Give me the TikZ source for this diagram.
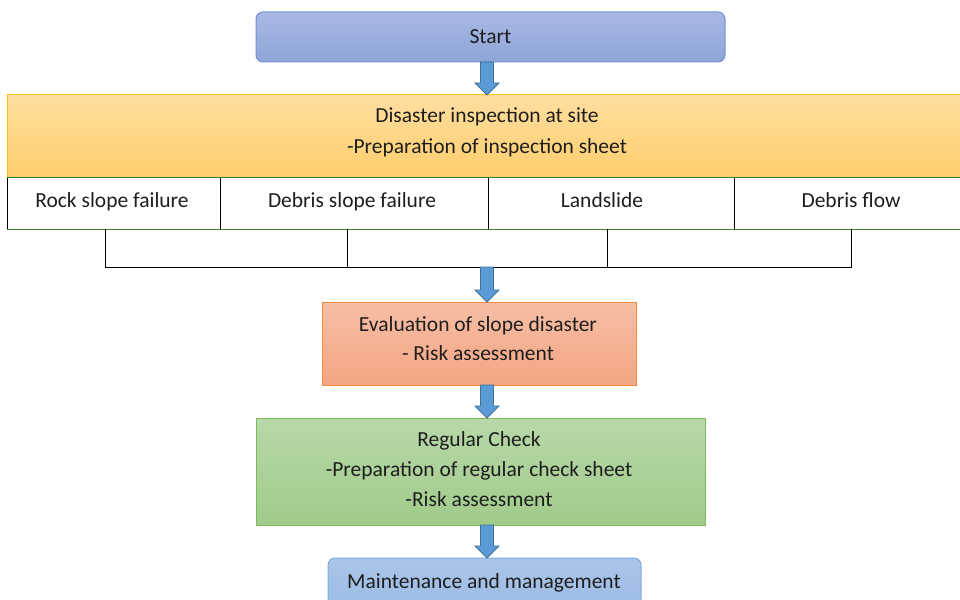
\documentclass[tikz,border=0pt]{standalone}
\usepackage{fontspec}
\setmainfont{Carlito}
\usetikzlibrary{calc}
\definecolor{txt}{HTML}{1E1E1E}
\definecolor{arrfill}{HTML}{5B9BD5}
\definecolor{arrdraw}{HTML}{41719C}
\definecolor{stT}{HTML}{A9B8E2}\definecolor{stB}{HTML}{8EA5D9}\definecolor{stD}{HTML}{7391D2}
\definecolor{inT}{HTML}{FFDEA0}\definecolor{inB}{HTML}{FFCE6C}\definecolor{inD}{HTML}{FFC20E}
\definecolor{evT}{HTML}{F7BEA5}\definecolor{evB}{HTML}{F4A582}\definecolor{evD}{HTML}{F28A3C}
\definecolor{chT}{HTML}{B8D8A9}\definecolor{chB}{HTML}{A0CB8A}\definecolor{chD}{HTML}{7CBB58}
\definecolor{maT}{HTML}{AAC5E9}\definecolor{maB}{HTML}{9DBCE5}\definecolor{maD}{HTML}{80A8DD}
\definecolor{cellG}{HTML}{3F7F2C}
\tikzset{
  box/.style={draw, line width=1pt, inner sep=0pt, outer sep=0pt, align=center, text=txt,
    font=\fontsize{21.5}{30}\selectfont},
  startbox/.style={box, rounded corners=7pt, top color=stT, bottom color=stB, draw=stD},
  inspbox/.style={box, top color=inT, bottom color=inB, draw=inD},
  cellbox/.style={box, fill=white, draw=black},
  evalbox/.style={box, top color=evT, bottom color=evB, draw=evD},
  checkbox/.style={box, top color=chT, bottom color=chB, draw=chD},
  maintbox/.style={box, rounded corners=7pt, top color=maT, bottom color=maB, draw=maD},
  bracket/.style={draw=black, line width=1pt},
  celltext/.style={text=txt, font=\fontsize{21.5}{30}\selectfont, inner sep=0pt, anchor=base},
  barrow/.style={fill=arrfill, draw=arrdraw, line width=0.8pt, line join=miter},
}
\newcommand{\blockarr}[2]{%
  \path (xa |- #1.south) coordinate (ba1) (xa |- #2.north) coordinate (ba2);
  \filldraw[barrow]
    ($(ba1)+(-6.5,0)$) -- ($(ba1)+(6.5,0)$) -- ($(ba2)+(6.5,-12)$) -- ($(ba2)+(12,-12)$)
    -- (ba2) -- ($(ba2)+(-12,-12)$) -- ($(ba2)+(-6.5,-12)$) -- cycle;}
\begin{document}
\begin{tikzpicture}[x=1pt, y=-1pt]
\useasboundingbox (0,0) rectangle (960,599);
\clip (0,0) rectangle (960,599);
\fill[white] (0,0) rectangle (960,599);
\coordinate (xa) at (487,0);

\node[startbox, minimum width=469pt, minimum height=50pt] (start) at (490.5,37) {Start};
\node[inspbox, minimum width=960pt, minimum height=82pt] (insp) at (487,136) {};
\node[celltext] (tinsp1) at (487,123) {Disaster inspection at site};
\node[celltext] (tinsp2) at (487,153) {-Preparation of inspection sheet};

\node[cellbox, minimum width=213pt, minimum height=52pt] (rock) at (113.5,203) {};
\node[cellbox, minimum width=268pt, minimum height=52pt] (debris) at (354,203) {};
\node[cellbox, minimum width=246pt, minimum height=52pt] (land) at (611,203) {};
\node[cellbox, minimum width=233pt, minimum height=52pt] (flow) at (850.5,203) {};
\draw[draw=cellG, line width=1pt] (rock.south west) -- (flow.south east);
\draw[draw=cellG, line width=1pt] (rock.north west) -- (flow.north east);
\node[celltext] (trock) at (112,207) {Rock slope failure};
\node[celltext] (tdebris) at (352,207) {Debris slope failure};
\node[celltext] (tland) at (602,207) {Landslide};
\node[celltext] (tflow) at (851,207) {Debris flow};

\coordinate (b1) at (105,267);
\coordinate (b2) at (347,267);
\coordinate (b3) at (607,267);
\coordinate (b4) at (851,267);
\draw[bracket] (rock.south -| b1) -- (b1) -- (b4) -- (flow.south -| b4);
\draw[bracket] (debris.south -| b2) -- (b2);
\draw[bracket] (land.south -| b3) -- (b3);

\node[evalbox, minimum width=314pt, minimum height=83pt] (eval) at (479,343.5) {};
\node[celltext] (teval1) at (478,331) {Evaluation of slope disaster};
\node[celltext] (teval2) at (478,360) {- Risk assessment};
\node[checkbox, minimum width=449pt, minimum height=107pt] (check) at (480.5,471.5) {};
\node[celltext] (tcheck1) at (479,446) {Regular Check};
\node[celltext] (tcheck2) at (479,476) {-Preparation of regular check sheet};
\node[celltext] (tcheck3) at (479,506) {-Risk assessment};
\node[maintbox, minimum width=313pt, minimum height=48pt] (maint) at (484.5,582) {};
\node[celltext] (tmaint) at (484,588) {Maintenance and management};

\blockarr{start}{insp}
\coordinate (bk) at (487,267);
\path (bk) coordinate (ba1) (xa |- eval.north) coordinate (ba2);
\filldraw[barrow]
    ($(ba1)+(-6.5,0)$) -- ($(ba1)+(6.5,0)$) -- ($(ba2)+(6.5,-12)$) -- ($(ba2)+(12,-12)$)
    -- (ba2) -- ($(ba2)+(-12,-12)$) -- ($(ba2)+(-6.5,-12)$) -- cycle;
\blockarr{eval}{check}
\blockarr{check}{maint}
\end{tikzpicture}
\end{document}
